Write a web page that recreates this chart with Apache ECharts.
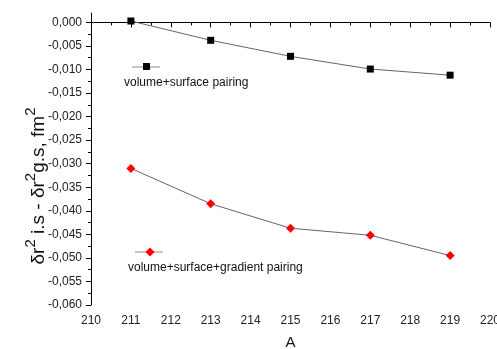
<!DOCTYPE html>
<html>
<head>
<meta charset="utf-8">
<script src="https://cdn.jsdelivr.net/npm/echarts@6/dist/echarts.min.js"></script>
<style>html,body{margin:0;padding:0;background:#fff}#c{width:497px;height:349px}</style>
</head>
<body>
<div id="c"></div>
<script>
var massNumbers = [211, 213, 215, 217, 219];
var volSurf = [0.0003, -0.0038, -0.0072, -0.0099, -0.0112];
var volSurfGrad = [-0.0310, -0.0385, -0.0437, -0.0452, -0.0495];
var seriesNames = ['volume+surface pairing', 'volume+surface+gradient pairing'];
var xTicks = [210, 211, 212, 213, 214, 215, 216, 217, 218, 219, 220];
var yTicks = [-0.060, -0.055, -0.050, -0.045, -0.040, -0.035, -0.030, -0.025, -0.020, -0.015, -0.010, -0.005, 0.000];

function pairs(xs, ys) { return xs.map(function (x, i) { return [x, ys[i]]; }); }

var chart = echarts.init(document.getElementById('c'), null, { renderer: 'canvas' });
var font = 'Liberation Sans, Arial, sans-serif';
chart.setOption({
  animation: false,
  backgroundColor: '#fff',
  grid: { left: 91, right: 7, top: 13, bottom: 44, containLabel: false, outerBoundsMode: 'none' },
  xAxis: {
    type: 'value', min: 210, max: 220, interval: 1,
    name: 'A', nameLocation: 'middle', nameGap: 30,
    nameTextStyle: { fontFamily: font, fontSize: 15, color: '#111' },
    axisLine: { show: true, lineStyle: { color: '#000', width: 1 } },
    axisTick: { show: true, inside: false, length: 5, lineStyle: { color: '#000' } },
    minorTick: { show: true, splitNumber: 2, length: 3, lineStyle: { color: '#000' } },
    splitLine: { show: false },
    axisLabel: { fontFamily: font, fontSize: 12, color: '#222', margin: 10, hideOverlap: false,
      customValues: xTicks },
  },
  yAxis: {
    type: 'value', min: -0.06, max: 0.002, interval: 0.005,
    axisLine: { show: true, lineStyle: { color: '#000', width: 1 } },
    axisTick: { show: true, inside: false, length: 5, lineStyle: { color: '#000' }, customValues: yTicks },
    minorTick: { show: true, splitNumber: 2, length: 3, lineStyle: { color: '#000' } },
    splitLine: { show: false },
    axisLabel: { fontFamily: font, fontSize: 12, color: '#222', margin: 9,
      customValues: yTicks,
      formatter: function (v) { var s = Math.abs(v) < 1e-9 ? '0,000' : v.toFixed(3).replace('.', ','); return s; } }
  },
  graphic: [
    {
      type: 'text', x: 34, y: 186, rotation: Math.PI / 2,
      style: {
        text: '{m|δr}{s|2}{m| i.s - δr}{s|2}{m|g.s, fm}{s|2}',
        align: 'center', verticalAlign: 'middle',
        fill: '#111',
        rich: {
          m: { fontFamily: font, fontSize: 19, fill: '#111', verticalAlign: 'bottom', lineHeight: 28 },
          s: { fontFamily: font, fontSize: 15, fill: '#111', verticalAlign: 'bottom', lineHeight: 28, padding: [0, 0, 10, 0] }
        }
      }
    },
    { type: 'line', shape: { x1: 132, y1: 67, x2: 160, y2: 67 }, style: { stroke: '#888', lineWidth: 1 } },
    { type: 'rect', shape: { x: 143, y: 63, width: 7, height: 7 }, style: { fill: '#000' } },
    { type: 'text', x: 124, y: 83, style: { text: seriesNames[0], fontFamily: font, fontSize: 12, fill: '#111', verticalAlign: 'middle' } },
    { type: 'line', shape: { x1: 135, y1: 252, x2: 163, y2: 252 }, style: { stroke: '#888', lineWidth: 1 } },
    { type: 'polygon', shape: { points: [[150, 247.5], [154.5, 252], [150, 256.5], [145.5, 252]] }, style: { fill: '#ff0000' } },
    { type: 'text', x: 128, y: 268, style: { text: seriesNames[1], fontFamily: font, fontSize: 12, fill: '#111', verticalAlign: 'middle' } }
  ],
  series: [
    {
      name: seriesNames[0], type: 'line', data: pairs(massNumbers, volSurf),
      symbol: 'rect', symbolSize: 7,
      itemStyle: { color: '#000' },
      lineStyle: { color: '#666', width: 1 }
    },
    {
      name: seriesNames[1], type: 'line', data: pairs(massNumbers, volSurfGrad),
      symbol: 'diamond', symbolSize: 9,
      itemStyle: { color: '#ff0000' },
      lineStyle: { color: '#666', width: 1 }
    }
  ]
});
</script>
</body>
</html>
